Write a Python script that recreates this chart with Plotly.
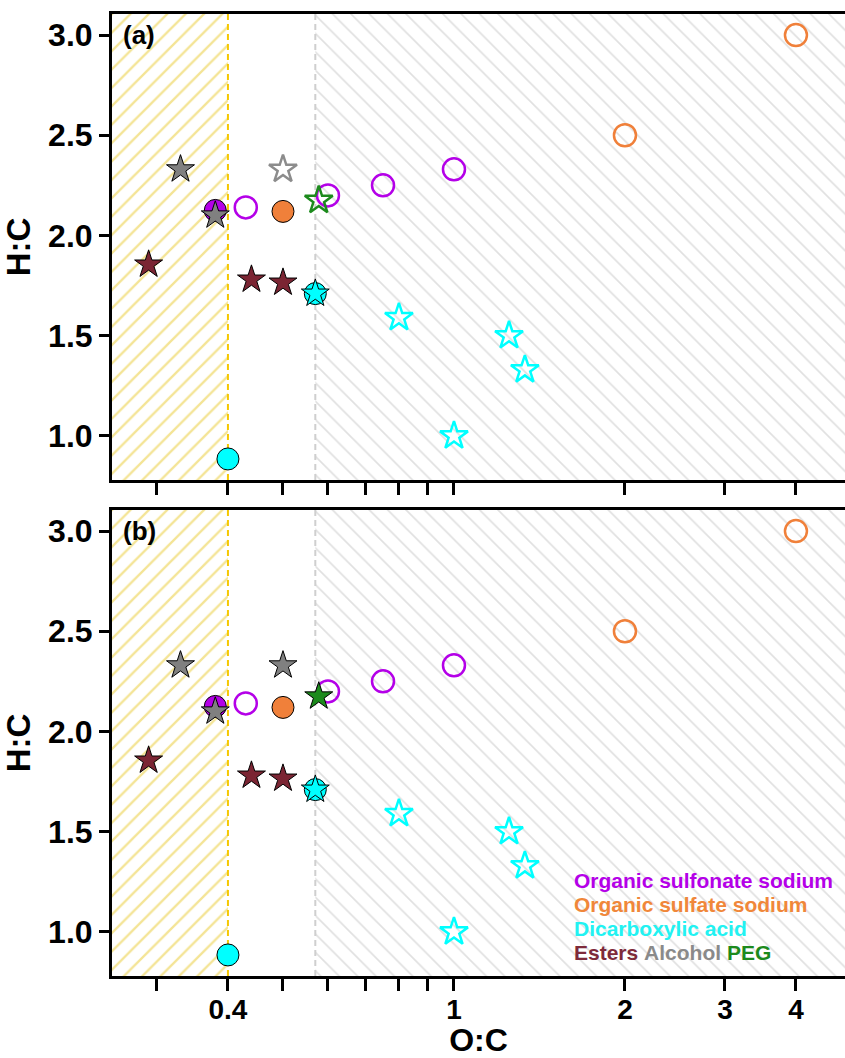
import plotly.graph_objects as go
import numpy as np

# ---------------- data ----------------
# threshold lines / hatched regions (O:C)
low_oc_limit = 0.4
high_oc_limit = 0.57
x_range = [0.25, 4.88]
y_range = [0.78, 3.105]

# Organic sulfonate sodium
sulfonate_filled_x = [0.38]
sulfonate_filled_y = [2.125]
sulfonate_open_x = [0.43, 0.60, 0.75, 1.0]
sulfonate_open_y = [2.14, 2.20, 2.25, 2.33]

# Organic sulfate sodium
sulfate_filled_x = [0.5]
sulfate_filled_y = [2.12]
sulfate_open_x = [2.0, 4.0]
sulfate_open_y = [2.5, 3.0]

# Dicarboxylic acid
dicarb_circle_x = [0.4, 0.57]
dicarb_circle_y = [0.885, 1.71]
dicarb_star_filled_x = [0.57]
dicarb_star_filled_y = [1.71]
dicarb_star_open_x = [0.80, 1.25, 1.333, 1.0]
dicarb_star_open_y = [1.59, 1.50, 1.33, 1.00]

# Esters
esters_x = [0.29, 0.44, 0.5]
esters_y = [1.855, 1.78, 1.765]

# Alcohol
alcohol_x = [0.33, 0.38]
alcohol_y = [2.33, 2.10]
alcohol2_x = [0.5]
alcohol2_y = [2.33]

# PEG
peg_x = [0.578]
peg_y = [2.175]

x_tick_vals = [0.3, 0.4, 0.5, 0.6, 0.7, 0.8, 0.9, 1, 2, 3, 4]
x_tick_text = ["", "0.4", "", "", "", "", "", "1", "2", "3", "4"]
y_tick_vals = [1.0, 1.5, 2.0, 2.5, 3.0]
y_tick_text = ["1.0", "1.5", "2.0", "2.5", "3.0"]

legend_items = [
    [("Organic sulfonate sodium", "#B400E8")],
    [("Organic sulfate sodium", "#F0873A")],
    [("Dicarboxylic acid", "#22F2F2")],
    [("Esters", "#7E2A3A"), ("Alcohol", "#8A8A8A"), ("PEG", "#1C8A1C")],
]

# ---------------- style ----------------
PURPLE = "#B400E8"
ORANGE = "#F0803A"
CYAN = "#00FFFF"
MAROON = "#7B2533"
GRAY = "#808080"
GREEN = "#1C8A1C"
HATCH_Y = "#E9C92C"
HATCH_G = "#C2C2C2"
FONT = "Liberation Sans, Arial, sans-serif"

CIRC = 22
STAR = 21

fig = go.Figure()


def add_panel(xa, ya, alc2_filled, peg_filled):
    # hatched regions
    fig.add_trace(go.Scatter(
        x=[x_range[0], low_oc_limit, low_oc_limit, x_range[0], x_range[0]],
        y=[y_range[0], y_range[0], y_range[1], y_range[1], y_range[0]],
        mode="lines", line=dict(width=0), fill="toself",
        fillcolor="rgba(0,0,0,0)",
        fillpattern=dict(shape="/", fgcolor=HATCH_Y, size=13, solidity=0.18),
        xaxis=xa, yaxis=ya, hoverinfo="skip", showlegend=False))
    fig.add_trace(go.Scatter(
        x=[high_oc_limit, x_range[1], x_range[1], high_oc_limit, high_oc_limit],
        y=[y_range[0], y_range[0], y_range[1], y_range[1], y_range[0]],
        mode="lines", line=dict(width=0), fill="toself",
        fillcolor="rgba(0,0,0,0)",
        fillpattern=dict(shape="\\", fgcolor=HATCH_G, size=13, solidity=0.13),
        xaxis=xa, yaxis=ya, hoverinfo="skip", showlegend=False))
    # dashed boundary lines
    fig.add_trace(go.Scatter(
        x=[low_oc_limit, low_oc_limit], y=y_range, mode="lines",
        line=dict(color="#F5C800", width=2, dash="6px,4px"),
        xaxis=xa, yaxis=ya, hoverinfo="skip", showlegend=False))
    fig.add_trace(go.Scatter(
        x=[high_oc_limit, high_oc_limit], y=y_range, mode="lines",
        line=dict(color="#CFCFCF", width=2, dash="6px,4px"),
        xaxis=xa, yaxis=ya, hoverinfo="skip", showlegend=False))

    def pts(x, y, symbol, size, color, lcolor, lw):
        fig.add_trace(go.Scatter(
            x=x, y=y, mode="markers",
            marker=dict(symbol=symbol, size=size, color=color,
                        line=dict(color=lcolor, width=lw)),
            xaxis=xa, yaxis=ya, showlegend=False))

    # circles
    pts(sulfonate_filled_x, sulfonate_filled_y, "circle", CIRC, PURPLE, "black", 1)
    pts(sulfonate_open_x, sulfonate_open_y, "circle-open", CIRC, PURPLE, PURPLE, 2.5)
    pts(sulfate_filled_x, sulfate_filled_y, "circle", CIRC, ORANGE, "black", 1)
    pts(sulfate_open_x, sulfate_open_y, "circle-open", CIRC, ORANGE, ORANGE, 2.5)
    pts(dicarb_circle_x, dicarb_circle_y, "circle", CIRC, CYAN, "black", 1)
    # stars
    pts(dicarb_star_filled_x, dicarb_star_filled_y, "star", STAR, CYAN, "black", 1)
    pts(dicarb_star_open_x, dicarb_star_open_y, "star-open", STAR, CYAN, CYAN, 2.5)
    pts(esters_x, esters_y, "star", STAR, MAROON, "black", 1)
    pts(alcohol_x, alcohol_y, "star", STAR, GRAY, "black", 1)
    if alc2_filled:
        pts(alcohol2_x, alcohol2_y, "star", STAR, GRAY, "black", 1)
    else:
        pts(alcohol2_x, alcohol2_y, "star-open", STAR, "#8C8C8C", "#8C8C8C", 2.5)
    if peg_filled:
        pts(peg_x, peg_y, "star", STAR, GREEN, "black", 1)
    else:
        pts(peg_x, peg_y, "star-open", STAR, GREEN, GREEN, 2.5)


add_panel("x", "y", False, False)
add_panel("x2", "y2", True, True)

W, H = 845, 1058
m_t, m_b, m_l, m_r = 14, 82, 112, 0
plot_h = H - m_t - m_b
top_dom = [(976 - 480) / plot_h, 1.0]
bot_dom = [0.0, (976 - 510) / plot_h]

xr = [np.log10(x_range[0]), np.log10(x_range[1])]
common_x = dict(type="log", range=xr, tickmode="array", tickvals=x_tick_vals,
                showline=True, linewidth=3, linecolor="black", mirror=True,
                ticks="outside", ticklen=12, tickwidth=2.5, tickcolor="black",
                showgrid=False, zeroline=False, automargin=False,
                ticklabelstandoff=-6,
                tickfont=dict(family=FONT, size=28, color="black"))
common_y = dict(range=y_range, tickmode="array", tickvals=y_tick_vals,
                ticktext=[f"<b>{t}</b>" for t in y_tick_text],
                showline=True, linewidth=3, linecolor="black", mirror=False,
                ticks="outside", ticklen=10, tickwidth=2.5, tickcolor="black",
                showgrid=False, zeroline=False, automargin=False,
                tickfont=dict(family=FONT, size=32, color="black"),
                title=dict(text="<b>H:C</b>", font=dict(family=FONT, size=33, color="black"),
                           standoff=10))

fig.update_layout(
    width=W, height=H,
    margin=dict(t=m_t, b=m_b, l=m_l, r=m_r),
    paper_bgcolor="white", plot_bgcolor="white",
    showlegend=False,
    xaxis=dict(common_x, domain=[0, 1], anchor="y",
               ticktext=["" for _ in x_tick_text]),
    yaxis=dict(common_y, domain=top_dom, anchor="x"),
    xaxis2=dict(common_x, domain=[0, 1], anchor="y2",
                ticktext=[f"<b>{t}</b>" if t else "" for t in x_tick_text],
                title=dict(text="<b>O:C</b>", font=dict(family=FONT, size=32, color="black"),
                           standoff=2)),
    yaxis2=dict(common_y, domain=bot_dom, anchor="x2"),
)

# panel labels
for ref, lab in [("", "(a)"), ("2", "(b)")]:
    fig.add_annotation(xref=f"x{ref} domain", yref=f"y{ref} domain",
                       x=0.012, y=0.955, xanchor="left", yanchor="middle",
                       text=f"<b>{lab}</b>", showarrow=False,
                       font=dict(family=FONT, size=26, color="black"))

# colored text legend in panel b
leg_y = [0.206, 0.1545, 0.103, 0.0494]
for row, yy in zip(legend_items, leg_y):
    txt = " ".join(f"<span style='color:{c}'><b>{t}</b></span>" for t, c in row)
    fig.add_annotation(xref="x2 domain", yref="y2 domain", x=0.6276, y=yy,
                       xanchor="left", yanchor="middle", text=txt, showarrow=False,
                       font=dict(family=FONT, size=21))

fig.write_html(
    "out.html",
    config={"displayModeBar": False},
    post_script="document.body.style.margin='0px';document.body.style.overflow='hidden';",
)
